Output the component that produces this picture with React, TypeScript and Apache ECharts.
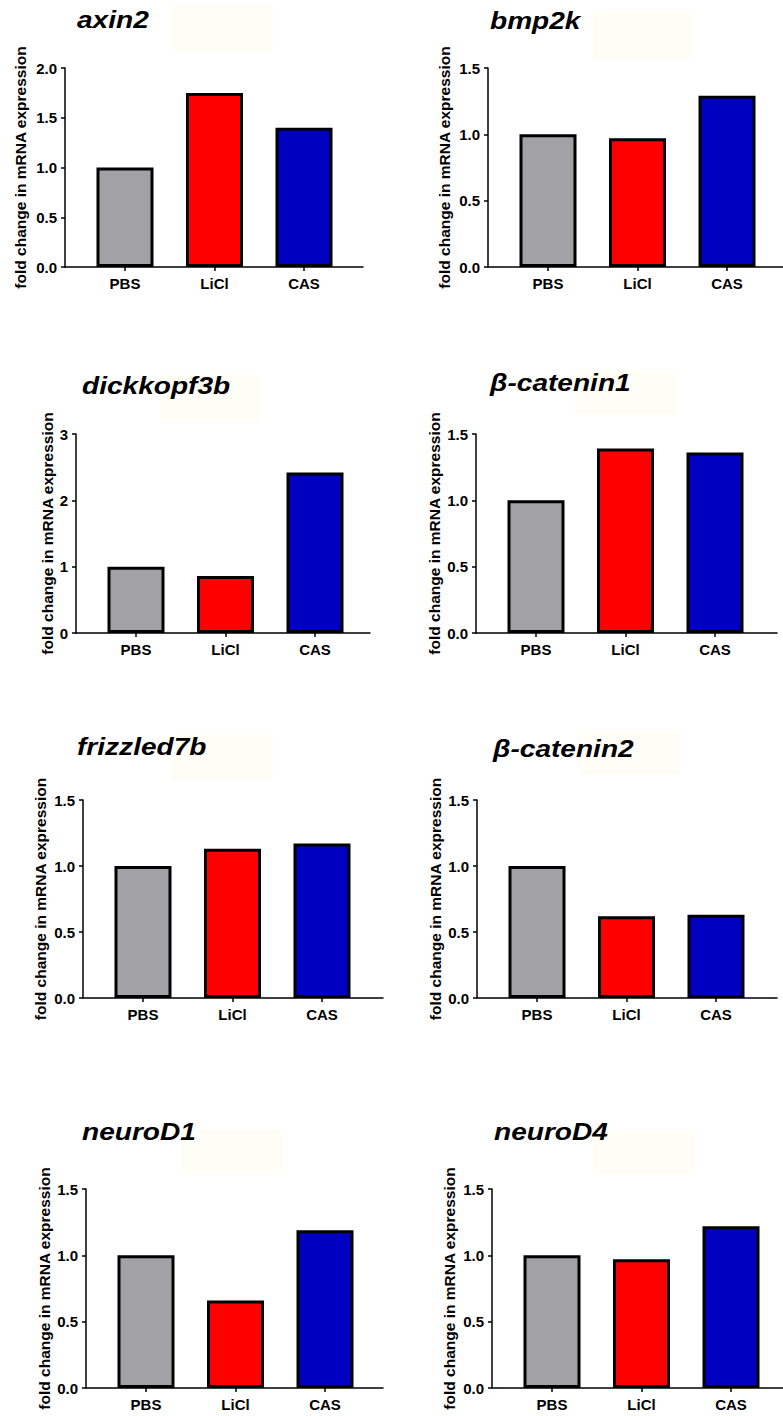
import React, { useEffect, useRef } from "react";
import * as echarts from "echarts";

// ---- data ----
const categories = ["PBS", "LiCl", "CAS"];
const genes = ["axin2", "bmp2k", "dickkopf3b", "β-catenin1", "frizzled7b", "β-catenin2", "neuroD1", "neuroD4"];
const axin2 = [1.0, 1.75, 1.4];
const bmp2k = [1.0, 0.97, 1.29];
const dickkopf3b = [1.0, 0.86, 2.42];
const betaCatenin1 = [1.0, 1.39, 1.36];
const frizzled7b = [1.0, 1.13, 1.17];
const betaCatenin2 = [1.0, 0.62, 0.63];
const neuroD1 = [1.0, 0.66, 1.19];
const neuroD4 = [1.0, 0.97, 1.22];
const seriesValues = [axin2, bmp2k, dickkopf3b, betaCatenin1, frizzled7b, betaCatenin2, neuroD1, neuroD4];
const yMax = [2, 1.5, 3, 1.5, 1.5, 1.5, 1.5, 1.5];
const yInterval = [0.5, 0.5, 1, 0.5, 0.5, 0.5, 0.5, 0.5];
const yAxisName = "fold change in mRNA expression";

// ---- layout (pixels) ----
const barColors = ["#a2a1a6", "#ff0000", "#0000c0"];
const FONT = "'Liberation Sans', Arial, Helvetica, sans-serif";
const layout = [
  { ax: 65, top: 68, bottom: 267, xEnd: 363, nameGap: 37, tx: 77, ty: 19.5, fr: [172, 5, 101, 45] },
  { ax: 488, top: 68, bottom: 267, xEnd: 783, nameGap: 36, tx: 490, ty: 20.5, fr: [593, 10, 100, 48] },
  { ax: 76, top: 434, bottom: 633, xEnd: 370, nameGap: 19, tx: 82, ty: 385.5, fr: [160, 375, 100, 47] },
  { ax: 476, top: 434, bottom: 633, xEnd: 777, nameGap: 34, tx: 490, ty: 382.5, fr: [575, 370, 102, 45] },
  { ax: 83, top: 800, bottom: 998, xEnd: 383, nameGap: 35, tx: 77, ty: 747, fr: [172, 735, 101, 45] },
  { ax: 477, top: 800, bottom: 998, xEnd: 777, nameGap: 34, tx: 493, ty: 748.5, fr: [580, 730, 100, 45] },
  { ax: 86, top: 1189, bottom: 1388, xEnd: 383, nameGap: 34, tx: 82, ty: 1132, fr: [182, 1129, 101, 45] },
  { ax: 492, top: 1189, bottom: 1388, xEnd: 783, nameGap: 35, tx: 494, ty: 1132, fr: [593, 1130, 102, 45] },
];
const FIRST_OFFSET = 60;
const SPACING = 89.5;

export default function App() {
  const ref = useRef<HTMLDivElement>(null);
  useEffect(() => {
    document.body.style.margin = "0";
    const chart = echarts.init(ref.current!, undefined, { renderer: "svg" });
    const grid: any[] = [];
    const xAxis: any[] = [];
    const yAxis: any[] = [];
    const series: any[] = [];
    const graphic: any[] = [];
    layout.forEach((L, k) => {
      grid.push({ left: L.ax, top: L.top, width: L.xEnd - L.ax, height: L.bottom - L.top });
      xAxis.push({
        type: "value",
        gridIndex: k,
        min: -FIRST_OFFSET / SPACING,
        max: (L.xEnd - L.ax - FIRST_OFFSET) / SPACING,
        axisLine: { show: true, onZero: false, lineStyle: { color: "#000", width: 1.5 } },
        axisTick: { show: true, length: 4, customValues: [0, 1, 2], lineStyle: { color: "#000", width: 1.5 } },
        axisLabel: {
          customValues: [0, 1, 2],
          formatter: (v: number) => categories[Math.round(v)] ?? "",
          color: "#000",
          fontWeight: "bold",
          fontSize: 15,
          fontFamily: FONT,
          margin: 9,
        },
        splitLine: { show: false },
      });
      yAxis.push({
        type: "value",
        gridIndex: k,
        min: 0,
        max: yMax[k],
        interval: yInterval[k],
        name: yAxisName,
        nameLocation: "middle",
        nameGap: L.nameGap,
        nameTextStyle: { color: "#000", fontWeight: "bold", fontSize: 15.5, fontFamily: FONT },
        axisLine: { show: true, onZero: false, lineStyle: { color: "#000", width: 1.5 } },
        axisTick: { show: true, length: 4, lineStyle: { color: "#000", width: 1.5 } },
        axisLabel: {
          color: "#000",
          fontWeight: "bold",
          fontSize: 15,
          fontFamily: FONT,
          margin: 8,
          formatter: (v: number) => (yInterval[k] < 1 ? v.toFixed(1) : String(v)),
        },
        splitLine: { show: false },
      });
      series.push({
        type: "bar",
        xAxisIndex: k,
        yAxisIndex: k,
        barWidth: 57,
        data: seriesValues[k].map((v, i) => ({
          value: [i, v],
          itemStyle: { color: barColors[i], borderColor: "#000", borderWidth: 3 },
        })),
      });
      graphic.push({
        type: "rect",
        z: 0,
        shape: { x: L.fr[0], y: L.fr[1], width: L.fr[2], height: L.fr[3] },
        style: { fill: "#fefef6" },
      });
      graphic.push({
        type: "text",
        z: 10,
        x: L.tx,
        y: L.ty,
        scaleX: 1.17,
        style: {
          text: genes[k],
          fontSize: 24,
          fontWeight: "bold",
          fontStyle: "italic",
          fontFamily: FONT,
          fill: "#000",
          align: "left",
          verticalAlign: "middle",
        },
      });
    });
    chart.setOption({
      animation: false,
      backgroundColor: "#fff",
      grid,
      xAxis,
      yAxis,
      series,
      graphic,
    });
    return () => chart.dispose();
  }, []);
  return <div ref={ref} style={{ position: "absolute", left: 0, top: 0, width: 783, height: 1416 }} />;
}
